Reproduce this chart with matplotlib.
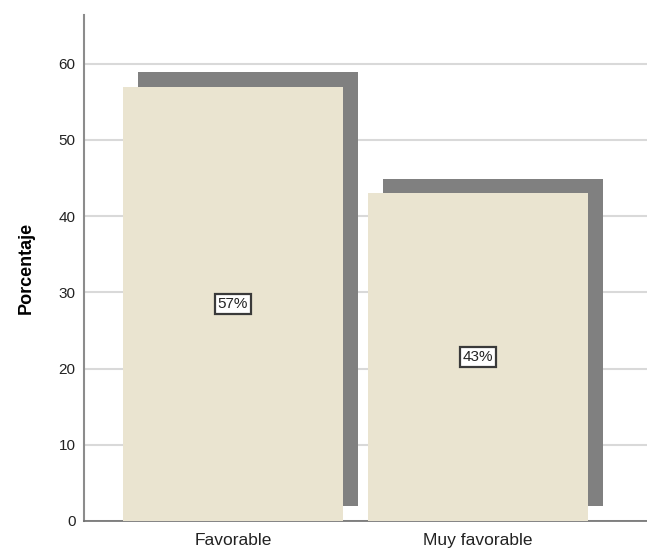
import matplotlib
matplotlib.use("Agg")
import matplotlib.pyplot as plt
import numpy as np

plt.rcParams['font.family'] = ['Liberation Sans', 'DejaVu Sans']

# Datos
categorias = ['Favorable', 'Muy favorable']
porcentajes = [57, 43]
etiquetas = ['57%', '43%']
yticks = [0, 10, 20, 30, 40, 50, 60]

color_barra = '#EAE4D0'
color_sombra = '#808080'
ancho = 0.898
dx, dy = 0.063, 1.9  # desplazamiento de la sombra

fig = plt.figure(figsize=(6.47, 5.52), dpi=100)
ax = fig.add_axes([0.1298, 0.0562, 0.8702, 0.9166])

x = np.arange(len(categorias))

# sombra detrás de cada barra
ax.bar(x + dx, porcentajes, width=ancho, bottom=dy, color=color_sombra, zorder=2)
ax.bar(x, porcentajes, width=ancho, color=color_barra, zorder=3)

for xi, v, t in zip(x, porcentajes, etiquetas):
    ax.text(xi, v / 2, t, ha='center', va='center', fontsize=11, color='#222222', zorder=4,
            bbox=dict(boxstyle='square,pad=0.2', facecolor='white', edgecolor='#3A3A3A', linewidth=1.6))

ax.set_xlim(-0.608, 1.69)
ax.set_ylim(0, 66.4)
ax.set_yticks(yticks)
ax.set_xticks(x)
ax.set_xticklabels(categorias, fontsize=12.5, color='#222222')
ax.tick_params(axis='y', length=0, pad=6, labelsize=11, labelcolor='#222222')
ax.tick_params(axis='x', length=0, pad=9)
ax.yaxis.grid(True, color='#D9D9D9', linewidth=1.5, zorder=1)
ax.set_axisbelow(True)

ax.set_ylabel('Porcentaje', fontsize=13, fontweight='bold', labelpad=17)

for s in ['top', 'right']:
    ax.spines[s].set_visible(False)
ax.spines['left'].set_color('#8C8C8C')
ax.spines['left'].set_linewidth(1.5)
ax.spines['bottom'].set_color('#6E6E6E')
ax.spines['bottom'].set_linewidth(1.2)

fig.savefig('out.png', dpi=100)
